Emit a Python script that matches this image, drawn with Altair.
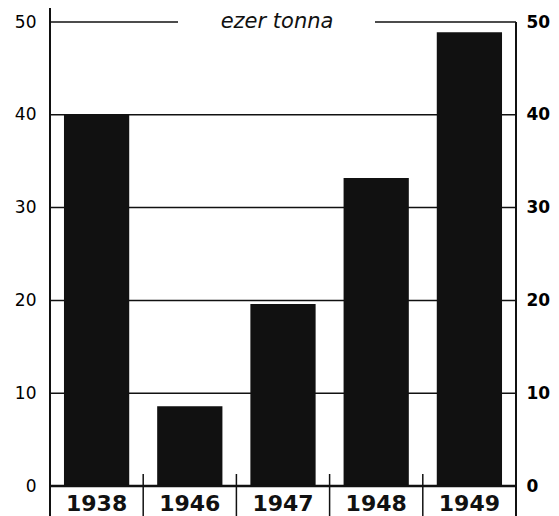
import altair as alt
import pandas as pd

# ---- data ----
years = ["1938", "1946", "1947", "1948", "1949"]
values = [40.0, 8.6, 19.6, 33.2, 48.9]
tick_values = [0, 10, 20, 30, 40, 50]
grid_levels = [10, 20, 30, 40]
separator_years = ["1946", "1947", "1948", "1949"]
unit_label = ["ezer tonna"]

W, H = 466, 464
INK = "#111111"

df = pd.DataFrame({"year": years, "value": values})
df_grid = pd.DataFrame({"level": grid_levels})
df_sep = pd.DataFrame({"year": separator_years})
df_one = pd.DataFrame({"k": [0]})
df_title = pd.DataFrame({"t": unit_label})

xscale = alt.Scale(domain=years, paddingInner=0, paddingOuter=0)
yscale = alt.Scale(domain=[0, 50], nice=False, zero=True)

axis_common = dict(values=tick_values, domain=False, ticks=False, grid=False,
                   labelFontSize=17, labelColor="black", labelFont="DejaVu Sans",
                   title=None)

grid = alt.Chart(df_grid).mark_rule(color=INK, strokeWidth=1.5).encode(
    x=alt.value(0), x2=alt.value(W),
    y=alt.Y("level:Q", scale=yscale,
            axis=alt.Axis(orient="right", labelPadding=10, labelFontWeight="bold", **axis_common)),
)

bars = alt.Chart(df).mark_bar(color=INK, width=alt.RelativeBandSize(0.7)).encode(
    x=alt.X("year:N", scale=xscale, axis=None),
    y=alt.Y("value:Q", scale=yscale,
            axis=alt.Axis(orient="left", labelPadding=14, **axis_common)),
)

top_left = alt.Chart(df_one).mark_rule(color=INK, strokeWidth=1.5).encode(
    x=alt.value(0), x2=alt.value(128), y=alt.value(0))
top_right = alt.Chart(df_one).mark_rule(color=INK, strokeWidth=1.5).encode(
    x=alt.value(325), x2=alt.value(W), y=alt.value(0))
left_axis = alt.Chart(df_one).mark_rule(color=INK, strokeWidth=2).encode(
    x=alt.value(0), y=alt.value(-14), y2=alt.value(H + 30))
right_axis = alt.Chart(df_one).mark_rule(color=INK, strokeWidth=2).encode(
    x=alt.value(W), y=alt.value(0), y2=alt.value(H + 30))
baseline = alt.Chart(df_one).mark_rule(color=INK, strokeWidth=2.5).encode(
    x=alt.value(0), x2=alt.value(W), y=alt.value(H))

separators = alt.Chart(df_sep).mark_rule(color=INK, strokeWidth=1.5).encode(
    x=alt.X("year:N", scale=xscale, bandPosition=0, axis=None),
    y=alt.value(H - 12), y2=alt.value(H + 30))

year_labels = alt.Chart(df).mark_text(
    fontSize=22, fontWeight="bold", font="DejaVu Sans", color=INK, baseline="bottom"
).encode(
    x=alt.X("year:N", scale=xscale, axis=None),
    y=alt.value(H + 30),
    text="year:N",
)

title = alt.Chart(df_title).mark_text(
    fontSize=21, fontStyle="italic", font="DejaVu Sans", color=INK, baseline="alphabetic"
).encode(
    x=alt.value(227), y=alt.value(6), text="t:N")

chart = alt.layer(
    grid, bars, top_left, top_right, left_axis, right_axis, baseline,
    separators, year_labels, title
).resolve_scale(y="shared").resolve_axis(y="independent").properties(
    width=W, height=H,
    autosize=alt.AutoSizeParams(type="none"),
    padding={"left": 42, "top": 14, "right": 35, "bottom": 30},
    background="white",
).configure_view(stroke=None)

chart.save("out.html", embed_options={"renderer": "svg", "actions": False})
